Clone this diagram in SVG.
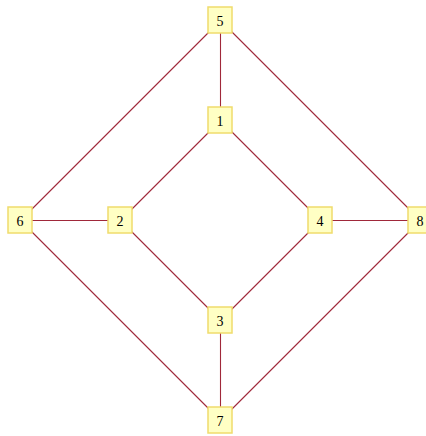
<svg xmlns="http://www.w3.org/2000/svg" width="426" height="436" viewBox="0 0 426 436">
<style>
.e{stroke:#a0283a;stroke-width:1.1;fill:none}
.n rect{fill:#ffffc4;stroke:#f0dc6c;stroke-width:1.5}
.n text{font-family:"Liberation Serif",serif;font-size:14px;fill:#000;text-anchor:middle;dominant-baseline:central}
</style>
<rect width="426" height="436" fill="#fff"/>
<g id="edges">
<line class="e" x1="220.5" y1="20.5" x2="220.5" y2="120.5"/>
<path class="e" d="M220.5 20.5 L20.5 220.5"/>
<line class="e" x1="220.5" y1="20.5" x2="420.5" y2="220.5"/>
<path class="e" d="M220.5 120.5 L120.5 220.5"/>
<line class="e" x1="220.5" y1="120.5" x2="320.5" y2="220.5"/>
<line class="e" x1="20.5" y1="220.5" x2="120.5" y2="220.5"/>
<line class="e" x1="20.5" y1="220.5" x2="220.5" y2="420.5"/>
<line class="e" x1="120.5" y1="220.5" x2="220.5" y2="320.5"/>
<path class="e" d="M320.5 220.5 L220.5 320.5"/>
<line class="e" x1="320.5" y1="220.5" x2="420.5" y2="220.5"/>
<line class="e" x1="220.5" y1="320.5" x2="220.5" y2="420.5"/>
<path class="e" d="M420.5 220.5 L220.5 420.5"/>
</g>
<g id="n5" class="n"><rect x="208" y="7" width="24" height="26"/><text x="220" y="21">5</text></g>
<g id="n1" class="n"><rect x="208" y="107" width="24" height="26"/><text x="220" y="121">1</text></g>
<g id="n6" class="n"><rect x="8" y="207" width="24" height="26"/><text x="20" y="221">6</text></g>
<g id="n2" class="n"><rect x="108" y="207" width="24" height="26"/><text x="120" y="221">2</text></g>
<g id="n4" class="n"><rect x="308" y="207" width="24" height="26"/><text x="320" y="221">4</text></g>
<g id="n8" class="n"><rect x="408" y="207" width="24" height="26"/><text x="420" y="221">8</text></g>
<g id="n3" class="n"><rect x="208" y="307" width="24" height="26"/><text x="220" y="321">3</text></g>
<g id="n7" class="n"><rect x="208" y="407" width="24" height="26"/><text x="220" y="421">7</text></g>
</svg>
